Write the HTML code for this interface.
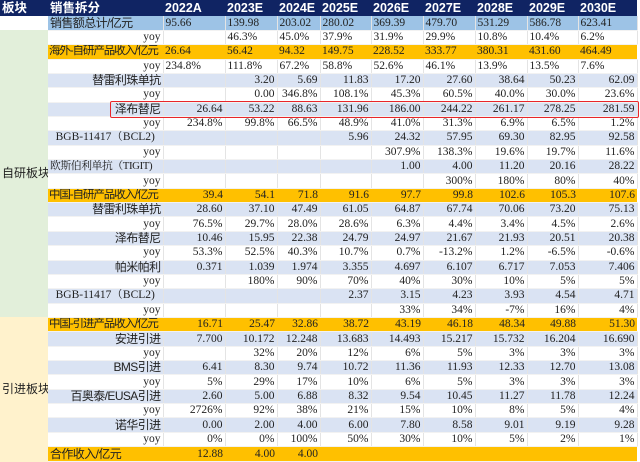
<!DOCTYPE html>
<html><head><meta charset="utf-8"><style>
body{margin:0;width:640px;height:462px;overflow:hidden;background:#fff;position:relative}
table{border-collapse:collapse;table-layout:fixed;position:absolute;left:0;top:0;width:637px;height:462px}
td{padding:0 2px;height:12px;line-height:13px;font-family:"Liberation Serif","Noto Serif CJK SC",serif;font-size:11.5px;color:#222;text-align:right;white-space:nowrap;overflow:hidden;border-right:1px solid #e4e4e4;border-bottom:1px solid #f2f2f2}
.h td{background:#102463;color:#fff;font-family:"Liberation Sans","Noto Sans CJK SC",sans-serif;font-weight:bold;font-size:12.5px;height:15px;line-height:16px;text-align:left;border:none}
.c{font-family:"Liberation Sans","Noto Sans CJK SC",sans-serif;font-size:12px;letter-spacing:-0.6px}
.lc{font-family:"Liberation Sans","Noto Sans CJK SC",sans-serif;font-size:11.5px;letter-spacing:-1.1px;padding-left:1px}
.t td{background:#9dc3e6;text-align:left}
.o td{background:#ffc000;border-right:none}
.o td.l{text-align:left}
.p td{background:#dae3f3}
.g{background:#e2efda!important;text-align:left;font-family:"Liberation Sans","Noto Sans CJK SC",sans-serif;font-size:12px;border:none}
.y{background:#fff2cc!important;text-align:left;font-family:"Liberation Sans","Noto Sans CJK SC",sans-serif;font-size:12px;border:none}
.lt{text-align:left!important}
.box{position:absolute;left:110px;top:101px;width:527px;height:15px;border:1.5px solid #e8262a;border-radius:2px}
</style></head><body>
<table>
<colgroup><col style="width:48px"><col style="width:115px"><col style="width:62px"><col style="width:52px"><col style="width:43px"><col style="width:51px"><col style="width:52px"><col style="width:52px"><col style="width:52px"><col style="width:51px"><col style="width:59px"></colgroup>
<tr class="h"><td>板块</td><td>销售拆分</td><td>2022A</td><td>2023E</td><td>2024E</td><td>2025E</td><td>2026E</td><td>2027E</td><td>2028E</td><td>2029E</td><td>2030E</td></tr>
<tr class="t"><td style="background:#fff;border:none"></td><td class="c">销售额总计/亿元</td><td>95.66</td><td>139.98</td><td>203.02</td><td>280.02</td><td>369.39</td><td>479.70</td><td>531.29</td><td>586.78</td><td>623.41</td></tr>
<tr><td class="g" rowspan="20">自研板块</td><td>yoy</td><td></td><td class="lt">46.3%</td><td class="lt">45.0%</td><td class="lt">37.9%</td><td class="lt">31.9%</td><td class="lt">29.9%</td><td class="lt">10.8%</td><td class="lt">10.4%</td><td class="lt">6.2%</td></tr>
<tr class="o"><td class="l lc">海外-自研产品收入/亿元</td><td class="l">26.64</td><td class="l">56.42</td><td class="l">94.32</td><td class="l">149.75</td><td class="l">228.52</td><td class="l">333.77</td><td class="l">380.31</td><td class="l">431.60</td><td class="l">464.49</td></tr>
<tr><td>yoy</td><td class="lt">234.8%</td><td class="lt">111.8%</td><td class="lt">67.2%</td><td class="lt">58.8%</td><td class="lt">52.6%</td><td class="lt">46.1%</td><td class="lt">13.9%</td><td class="lt">13.5%</td><td class="lt">7.6%</td></tr>
<tr class="p"><td class="c">替雷利珠单抗</td><td></td><td>3.20</td><td>5.69</td><td>11.83</td><td>17.20</td><td>27.60</td><td>38.64</td><td>50.23</td><td>62.09</td></tr>
<tr><td>yoy</td><td></td><td>0.00</td><td>346.8%</td><td>108.1%</td><td>45.3%</td><td>60.5%</td><td>40.0%</td><td>30.0%</td><td>23.6%</td></tr>
<tr class="p"><td class="c">泽布替尼</td><td>26.64</td><td>53.22</td><td>88.63</td><td>131.96</td><td>186.00</td><td>244.22</td><td>261.17</td><td>278.25</td><td>281.59</td></tr>
<tr><td>yoy</td><td>234.8%</td><td>99.8%</td><td>66.5%</td><td>48.9%</td><td>41.0%</td><td>31.3%</td><td>6.9%</td><td>6.5%</td><td>1.2%</td></tr>
<tr class="p"><td style="text-align:center">BGB-11417（BCL2)</td><td></td><td></td><td></td><td>5.96</td><td>24.32</td><td>57.95</td><td>69.30</td><td>82.95</td><td>92.58</td></tr>
<tr><td>yoy</td><td></td><td></td><td></td><td></td><td>307.9%</td><td>138.3%</td><td>19.6%</td><td>19.7%</td><td>11.6%</td></tr>
<tr class="p"><td class="lt" style="font-size:10.8px;letter-spacing:-0.4px">欧斯伯利单抗（TIGIT)</td><td></td><td></td><td></td><td></td><td>1.00</td><td>4.00</td><td>11.20</td><td>20.16</td><td>28.22</td></tr>
<tr><td>yoy</td><td></td><td></td><td></td><td></td><td></td><td>300%</td><td>180%</td><td>80%</td><td>40%</td></tr>
<tr class="o"><td class="l lc">中国-自研产品收入/亿元</td><td>39.4</td><td>54.1</td><td>71.8</td><td>91.6</td><td>97.7</td><td>99.8</td><td>102.6</td><td>105.3</td><td>107.6</td></tr>
<tr class="p"><td class="c">替雷利珠单抗</td><td>28.60</td><td>37.10</td><td>47.49</td><td>61.05</td><td>64.87</td><td>67.74</td><td>70.06</td><td>73.20</td><td>75.13</td></tr>
<tr><td>yoy</td><td>76.5%</td><td>29.7%</td><td>28.0%</td><td>28.6%</td><td>6.3%</td><td>4.4%</td><td>3.4%</td><td>4.5%</td><td>2.6%</td></tr>
<tr class="p"><td class="c">泽布替尼</td><td>10.46</td><td>15.95</td><td>22.38</td><td>24.79</td><td>24.97</td><td>21.67</td><td>21.93</td><td>20.51</td><td>20.38</td></tr>
<tr><td>yoy</td><td>53.3%</td><td>52.5%</td><td>40.3%</td><td>10.7%</td><td>0.7%</td><td>-13.2%</td><td>1.2%</td><td>-6.5%</td><td>-0.6%</td></tr>
<tr class="p"><td class="c">帕米帕利</td><td>0.371</td><td>1.039</td><td>1.974</td><td>3.355</td><td>4.697</td><td>6.107</td><td>6.717</td><td>7.053</td><td>7.406</td></tr>
<tr><td>yoy</td><td></td><td>180%</td><td>90%</td><td>70%</td><td>40%</td><td>30%</td><td>10%</td><td>5%</td><td>5%</td></tr>
<tr class="p"><td style="text-align:center">BGB-11417（BCL2)</td><td></td><td></td><td></td><td>2.37</td><td>3.15</td><td>4.23</td><td>3.93</td><td>4.54</td><td>4.71</td></tr>
<tr><td>yoy</td><td></td><td></td><td></td><td></td><td>33%</td><td>34%</td><td>-7%</td><td>16%</td><td>4%</td></tr>
<tr class="o"><td class="y" rowspan="10">引进板块</td><td class="l lc">中国-引进产品收入/亿元</td><td>16.71</td><td>25.47</td><td>32.86</td><td>38.72</td><td>43.19</td><td>46.18</td><td>48.34</td><td>49.88</td><td>51.30</td></tr>
<tr class="p"><td class="c">安进引进</td><td>7.700</td><td>10.172</td><td>12.248</td><td>13.683</td><td>14.493</td><td>15.217</td><td>15.732</td><td>16.204</td><td>16.690</td></tr>
<tr><td>yoy</td><td></td><td>32%</td><td>20%</td><td>12%</td><td>6%</td><td>5%</td><td>3%</td><td>3%</td><td>3%</td></tr>
<tr class="p"><td class="c">BMS引进</td><td>6.41</td><td>8.30</td><td>9.74</td><td>10.72</td><td>11.36</td><td>11.93</td><td>12.33</td><td>12.70</td><td>13.08</td></tr>
<tr><td>yoy</td><td>5%</td><td>29%</td><td>17%</td><td>10%</td><td>6%</td><td>5%</td><td>3%</td><td>3%</td><td>3%</td></tr>
<tr class="p"><td class="c">百奥泰/EUSA引进</td><td>2.60</td><td>5.00</td><td>6.88</td><td>8.32</td><td>9.54</td><td>10.45</td><td>11.27</td><td>11.78</td><td>12.24</td></tr>
<tr><td>yoy</td><td>2726%</td><td>92%</td><td>38%</td><td>21%</td><td>15%</td><td>10%</td><td>8%</td><td>5%</td><td>4%</td></tr>
<tr class="p"><td class="c">诺华引进</td><td>0.00</td><td>2.00</td><td>4.00</td><td>6.00</td><td>7.80</td><td>8.58</td><td>9.01</td><td>9.19</td><td>9.28</td></tr>
<tr><td>yoy</td><td>0%</td><td>0%</td><td>100%</td><td>50%</td><td>30%</td><td>10%</td><td>5%</td><td>2%</td><td>1%</td></tr>
<tr class="o"><td class="l c">合作收入/亿元</td><td>12.88</td><td>4.00</td><td>4.00</td><td></td><td></td><td></td><td></td><td></td><td></td></tr>
</table>
<div class="box"></div>
</body></html>
